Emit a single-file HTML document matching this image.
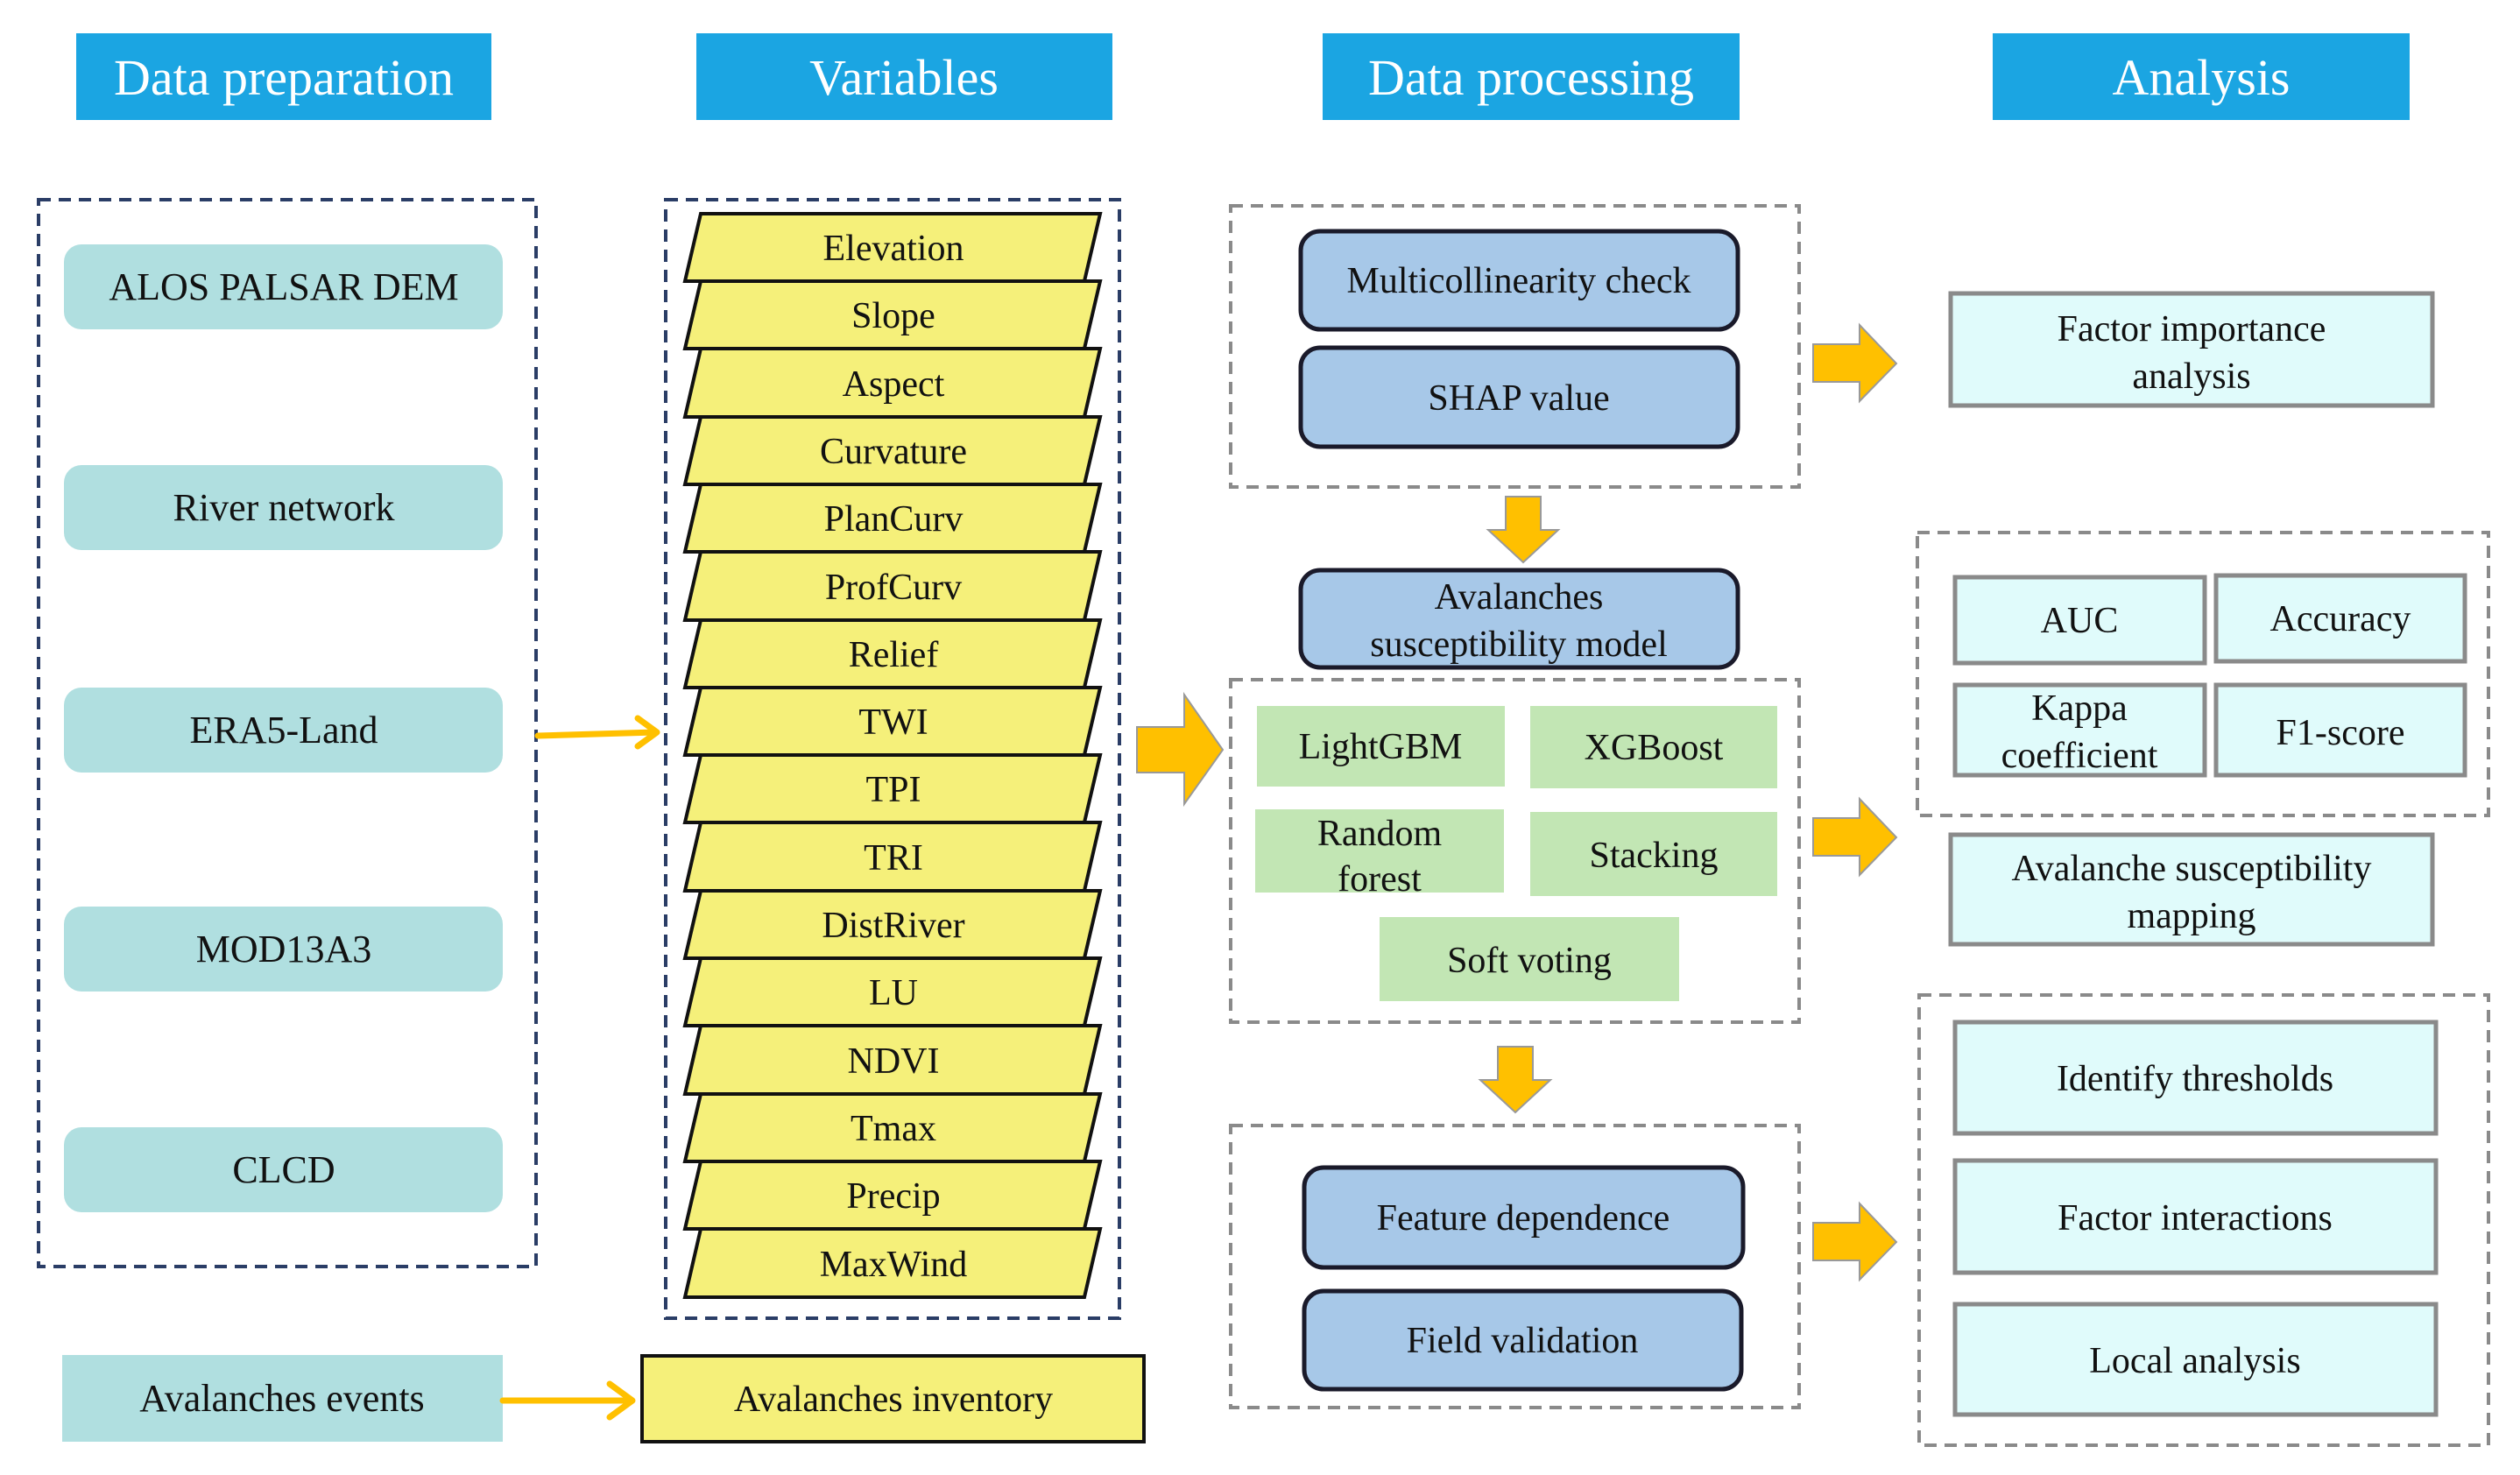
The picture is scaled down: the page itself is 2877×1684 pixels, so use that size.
<!DOCTYPE html>
<html><head><meta charset="utf-8"><style>
html,body{margin:0;padding:0;background:#fff;}
svg{display:block;}
text{font-family:"Liberation Serif",serif;fill:#111;}
</style></head><body>
<svg width="2877" height="1684" viewBox="0 0 2877 1684" xmlns="http://www.w3.org/2000/svg">
<g font-size="58" text-anchor="middle">
<rect x="87" y="38" width="474" height="99" fill="#1ba5e2"/>
<text x="324" y="108" style="fill:#fff">Data preparation</text>
<rect x="795" y="38" width="475" height="99" fill="#1ba5e2"/>
<text x="1032" y="108" style="fill:#fff">Variables</text>
<rect x="1510" y="38" width="476" height="99" fill="#1ba5e2"/>
<text x="1748" y="108" style="fill:#fff">Data processing</text>
<rect x="2275" y="38" width="476" height="99" fill="#1ba5e2"/>
<text x="2513" y="108" style="fill:#fff">Analysis</text>
</g>

<!-- left dashed -->
<rect x="44" y="228" width="568" height="1218" fill="none" stroke="#2a3d66" stroke-width="4" stroke-dasharray="14,9"/>
<g font-size="44" text-anchor="middle">
<rect x="73" y="279" width="501" height="97" rx="20" fill="#b0dfe0"/><text x="324" y="342">ALOS PALSAR DEM</text>
<rect x="73" y="531" width="501" height="97" rx="20" fill="#b0dfe0"/><text x="324" y="594">River network</text>
<rect x="73" y="785" width="501" height="97" rx="20" fill="#b0dfe0"/><text x="324" y="848">ERA5-Land</text>
<rect x="73" y="1035" width="501" height="97" rx="20" fill="#b0dfe0"/><text x="324" y="1098">MOD13A3</text>
<rect x="73" y="1287" width="501" height="97" rx="20" fill="#b0dfe0"/><text x="324" y="1350">CLCD</text>
<rect x="71" y="1547" width="503" height="99" fill="#b0dfe0"/><text x="322" y="1611">Avalanches events</text>
</g>

<!-- variables -->
<rect x="760" y="228" width="518" height="1277" fill="none" stroke="#2a3d66" stroke-width="4" stroke-dasharray="14,9"/>
<g font-size="42" text-anchor="middle" stroke-linejoin="miter">
<g id="rows"></g>
</g>
<g font-size="42" text-anchor="middle">
<polygon points="800,244 1256,244 1238,321 782,321" fill="#f5f07a" stroke="#111" stroke-width="4"/><text x="1020" y="297">Elevation</text>
<polygon points="800,321 1256,321 1238,398 782,398" fill="#f5f07a" stroke="#111" stroke-width="4"/><text x="1020" y="374">Slope</text>
<polygon points="800,398 1256,398 1238,476 782,476" fill="#f5f07a" stroke="#111" stroke-width="4"/><text x="1020" y="452">Aspect</text>
<polygon points="800,476 1256,476 1238,553 782,553" fill="#f5f07a" stroke="#111" stroke-width="4"/><text x="1020" y="529">Curvature</text>
<polygon points="800,553 1256,553 1238,630 782,630" fill="#f5f07a" stroke="#111" stroke-width="4"/><text x="1020" y="606">PlanCurv</text>
<polygon points="800,630 1256,630 1238,708 782,708" fill="#f5f07a" stroke="#111" stroke-width="4"/><text x="1020" y="684">ProfCurv</text>
<polygon points="800,708 1256,708 1238,785 782,785" fill="#f5f07a" stroke="#111" stroke-width="4"/><text x="1020" y="761">Relief</text>
<polygon points="800,785 1256,785 1238,862 782,862" fill="#f5f07a" stroke="#111" stroke-width="4"/><text x="1020" y="838">TWI</text>
<polygon points="800,862 1256,862 1238,939 782,939" fill="#f5f07a" stroke="#111" stroke-width="4"/><text x="1020" y="915">TPI</text>
<polygon points="800,939 1256,939 1238,1017 782,1017" fill="#f5f07a" stroke="#111" stroke-width="4"/><text x="1020" y="993">TRI</text>
<polygon points="800,1017 1256,1017 1238,1094 782,1094" fill="#f5f07a" stroke="#111" stroke-width="4"/><text x="1020" y="1070">DistRiver</text>
<polygon points="800,1094 1256,1094 1238,1171 782,1171" fill="#f5f07a" stroke="#111" stroke-width="4"/><text x="1020" y="1147">LU</text>
<polygon points="800,1171 1256,1171 1238,1249 782,1249" fill="#f5f07a" stroke="#111" stroke-width="4"/><text x="1020" y="1225">NDVI</text>
<polygon points="800,1249 1256,1249 1238,1326 782,1326" fill="#f5f07a" stroke="#111" stroke-width="4"/><text x="1020" y="1302">Tmax</text>
<polygon points="800,1326 1256,1326 1238,1403 782,1403" fill="#f5f07a" stroke="#111" stroke-width="4"/><text x="1020" y="1379">Precip</text>
<polygon points="800,1403 1256,1403 1238,1481 782,1481" fill="#f5f07a" stroke="#111" stroke-width="4"/><text x="1020" y="1457">MaxWind</text>
<rect x="733" y="1548" width="573" height="98" fill="#f5f07a" stroke="#111" stroke-width="4"/><text x="1020" y="1611">Avalanches inventory</text>
</g>

<!-- thin arrows -->
<g stroke="#ffc000" stroke-width="7" fill="none" stroke-linecap="round" stroke-linejoin="round">
<path d="M614,840 L748,836"/><path d="M728,820 L750,836 L728,852"/>
<path d="M574,1599 L718,1599"/><path d="M696,1580 L722,1599 L696,1618"/>
</g>

<!-- block arrows -->
<g fill="#ffc000" stroke="#999" stroke-width="2">
<polygon points="1298,830 1352,830 1352,793 1396,856 1352,918 1352,882 1298,882"/>
<polygon points="2070,393 2123,393 2123,371 2165,415 2123,458 2123,436 2070,436"/>
<polygon points="2070,934 2123,934 2123,912 2165,956 2123,999 2123,977 2070,977"/>
<polygon points="2070,1396 2123,1396 2123,1374 2165,1418 2123,1461 2123,1439 2070,1439"/>
<polygon points="1719,567 1759,567 1759,605 1779,605 1739,642 1699,605 1719,605"/>
<polygon points="1710,1195 1750,1195 1750,1233 1770,1233 1730,1270 1690,1233 1710,1233"/>
</g>

<!-- processing dashed -->
<g fill="none" stroke="#8a8a8a" stroke-width="4" stroke-dasharray="14,9">
<rect x="1405" y="235" width="649" height="321"/>
<rect x="1405" y="776" width="649" height="391"/>
<rect x="1405" y="1285" width="649" height="322"/>
<rect x="2189" y="608" width="652" height="323"/>
<rect x="2191" y="1136" width="650" height="514"/>
</g>
<g font-size="42" text-anchor="middle">
<rect x="1485" y="264" width="499" height="112" rx="22" fill="#a7c8e8" stroke="#1a1a2a" stroke-width="5"/><text x="1734" y="334">Multicollinearity check</text>
<rect x="1485" y="397" width="499" height="113" rx="22" fill="#a7c8e8" stroke="#1a1a2a" stroke-width="5"/><text x="1734" y="468">SHAP value</text>
<rect x="1485" y="651" width="499" height="111" rx="22" fill="#a7c8e8" stroke="#1a1a2a" stroke-width="5"/><text x="1734" y="695">Avalanches</text><text x="1734" y="749">susceptibility model</text>
<rect x="1489" y="1333" width="501" height="114" rx="22" fill="#a7c8e8" stroke="#1a1a2a" stroke-width="5"/><text x="1739" y="1404">Feature dependence</text>
<rect x="1489" y="1474" width="499" height="112" rx="22" fill="#a7c8e8" stroke="#1a1a2a" stroke-width="5"/><text x="1738" y="1544">Field validation</text>

<rect x="1435" y="806" width="283" height="92" fill="#c2e6b4"/><text x="1576" y="866">LightGBM</text>
<rect x="1747" y="806" width="282" height="94" fill="#c2e6b4"/><text x="1888" y="867">XGBoost</text>
<rect x="1433" y="924" width="284" height="95" fill="#c2e6b4"/><text x="1575" y="965">Random</text><text x="1575" y="1017">forest</text>
<rect x="1747" y="927" width="282" height="96" fill="#c2e6b4"/><text x="1888" y="990">Stacking</text>
<rect x="1575" y="1047" width="342" height="96" fill="#c2e6b4"/><text x="1746" y="1110">Soft voting</text>

<g fill="#e0fbfb" stroke="#8a8a8a" stroke-width="5">
<rect x="2227" y="335" width="550" height="128"/>
<rect x="2232" y="659" width="285" height="98"/>
<rect x="2530" y="657" width="284" height="98"/>
<rect x="2232" y="782" width="285" height="103"/>
<rect x="2530" y="782" width="284" height="103"/>
<rect x="2227" y="953" width="550" height="125"/>
<rect x="2232" y="1167" width="549" height="127"/>
<rect x="2232" y="1325" width="549" height="128"/>
<rect x="2232" y="1489" width="549" height="126"/>
</g>
<text x="2502" y="389">Factor importance</text><text x="2502" y="443">analysis</text>
<text x="2374" y="722">AUC</text>
<text x="2672" y="720">Accuracy</text>
<text x="2374" y="822">Kappa</text><text x="2374" y="876">coefficient</text>
<text x="2672" y="850">F1-score</text>
<text x="2502" y="1005">Avalanche susceptibility</text><text x="2502" y="1059">mapping</text>
<text x="2506" y="1245">Identify thresholds</text>
<text x="2506" y="1404">Factor interactions</text>
<text x="2506" y="1567">Local analysis</text>
</g>
</svg>
</body></html>
